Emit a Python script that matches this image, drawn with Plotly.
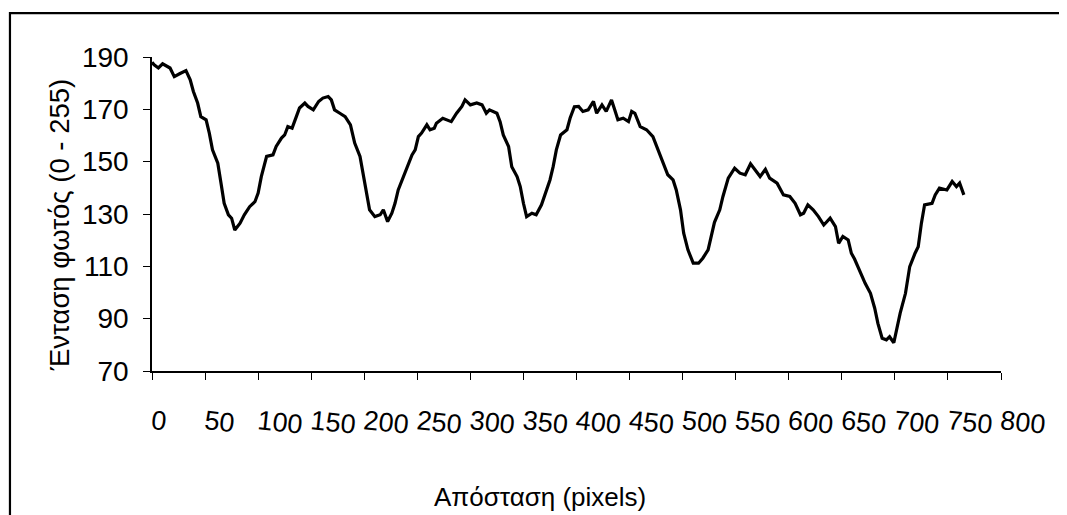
import plotly.graph_objects as go

# Distance along the profile (pixels) and light intensity (0-255)
distance = [0, 2, 6, 10, 17, 21, 26, 32, 36, 39, 43, 46, 51, 54, 57, 62, 65, 68, 72, 75,
            78, 83, 87, 92, 97, 100, 103, 108, 114, 117, 122, 125, 128, 132, 136, 139,
            144, 147, 152, 157, 161, 166, 169, 172, 177, 182, 187, 191, 196, 199, 202,
            205, 210, 215, 218, 222, 226, 229, 232, 235, 238, 242, 245, 248, 251, 254,
            259, 262, 266, 268, 274, 282, 287, 292, 295, 300, 306, 311, 315, 318, 325,
            328, 331, 336, 339, 344, 347, 350, 353, 358, 362, 367, 371, 375, 378, 381,
            385, 391, 394, 398, 402, 406, 411, 416, 419, 424, 428, 433, 436, 439, 444,
            449, 452, 455, 460, 466, 472, 477, 482, 486, 491, 494, 498, 501, 505, 510,
            515, 519, 524, 527, 530, 535, 538, 543, 549, 554, 559, 564, 568, 573, 578,
            582, 589, 595, 601, 606, 611, 614, 618, 623, 628, 633, 639, 644, 647, 651,
            656, 659, 662, 667, 672, 677, 681, 684, 688, 692, 695, 699, 702, 705, 710,
            714, 719, 722, 725, 728, 735, 738, 742, 749, 754, 758, 761, 765]

intensity = [188.0, 187.0, 185.8, 187.4, 185.8, 182.5, 183.6, 184.8, 181.3, 176.8, 172.4,
             167.2, 166.0, 160.9, 154.5, 149.4, 141.8, 134.1, 129.7, 128.4, 123.9, 126.5,
             129.7, 132.8, 134.7, 138.0, 144.3, 152.0, 152.6, 155.8, 159.0, 160.2, 163.4,
             162.8, 167.2, 170.5, 172.4, 171.1, 169.8, 173.0, 174.3, 174.9, 173.6, 169.8,
             168.5, 167.2, 164.1, 157.1, 152.0, 145.6, 139.2, 131.6, 129.0, 129.7, 131.6,
             127.1, 130.3, 134.1, 139.2, 142.4, 145.6, 149.4, 152.6, 154.5, 159.6, 160.9,
             164.1, 162.2, 162.8, 164.7, 166.6, 165.3, 168.5, 171.1, 173.6, 171.7, 172.4,
             171.7, 168.5, 169.8, 168.5, 165.3, 160.2, 155.8, 148.1, 144.3, 140.5, 134.1,
             129.0, 130.3, 129.7, 133.5, 138.0, 143.0, 148.1, 154.5, 160.2, 162.2, 166.7,
             171.0, 171.1, 169.2, 169.8, 173.0, 168.5, 171.7, 169.2, 173.6, 169.8, 166.0,
             166.6, 165.3, 169.2, 168.5, 163.4, 162.2, 159.6, 154.5, 149.4, 145.0, 143.0,
             139.2, 131.6, 122.7, 116.3, 111.2, 111.2, 113.1, 116.3, 121.4, 126.8, 131.6,
             136.7, 143.7, 147.5, 145.6, 145.0, 149.2, 146.9, 144.3, 147.1, 143.7, 141.8,
             137.3, 136.7, 134.1, 129.7, 130.3, 133.5, 131.6, 129.0, 125.8, 128.4, 125.2,
             118.8, 121.4, 120.1, 115.0, 112.8, 108.0, 103.5, 99.7, 94.0, 88.2, 82.5, 81.9,
             83.1, 80.8, 86.9, 92.1, 99.7, 109.9, 115.0, 117.5, 126.5, 133.5, 134.1, 137.3,
             139.9, 139.2, 142.4, 140.5, 141.8, 137.3]

x_ticks = list(range(0, 801, 50))
x_tick_labels = [str(v) for v in x_ticks]
y_ticks = [70, 90, 110, 130, 150, 170, 190]

FONT = "Arial, Liberation Sans, sans-serif"

fig = go.Figure()
fig.add_trace(go.Scatter(
    x=distance, y=intensity, mode="lines",
    line=dict(color="black", width=3.2),
    showlegend=False, hoverinfo="skip",
))

fig.update_layout(
    width=1067, height=515,
    margin=dict(l=144, r=74, t=49, b=152),
    paper_bgcolor="white", plot_bgcolor="white",
    font=dict(family=FONT, color="black", size=27),
    xaxis=dict(
        range=[0, 800], tickmode="array", tickvals=x_ticks, ticktext=x_tick_labels,
        showgrid=False, zeroline=False, showline=True, linecolor="black", linewidth=1.5,
        ticks="outside", ticklen=7, tickwidth=1, tickcolor="black",
        tickangle=6, ticklabelstandoff=17,
        tickfont=dict(family=FONT, size=27, color="black"),
    ),
    yaxis=dict(
        range=[70, 190], tickmode="array", tickvals=y_ticks,
        showgrid=False, zeroline=False, showline=True, linecolor="black", linewidth=1.5,
        ticks="outside", ticklen=7, tickwidth=1, tickcolor="black",
        ticklabelstandoff=9,
        tickfont=dict(family=FONT, size=28, color="black"),
    ),
    annotations=[
        dict(text="Απόσταση (pixels)", xref="paper", yref="paper",
             x=0.457, y=-0.401, xanchor="center", yanchor="middle",
             showarrow=False, font=dict(family=FONT, size=26, color="black")),
        dict(text="Ένταση φωτός (0 - 255)", xref="paper", yref="paper",
             x=-0.108, y=0.465, xanchor="center", yanchor="middle", textangle=-90,
             showarrow=False, font=dict(family=FONT, size=27.5, color="black")),
    ],
    shapes=[
        dict(type="rect", xref="paper", yref="paper",
             x0=-0.1673, x1=1.09, y0=-0.49, y1=1.140,
             line=dict(color="black", width=2.2), fillcolor="rgba(0,0,0,0)", layer="above"),
    ],
)

fig.write_html("out.html")
